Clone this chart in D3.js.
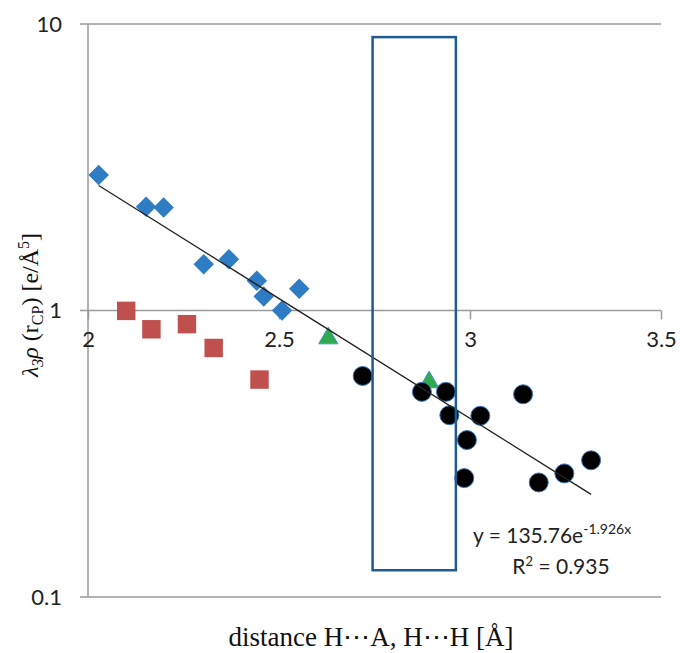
<!DOCTYPE html>
<html lang="en">
<head>
  <meta charset="UTF-8">
  <title>lambda3 rho vs distance</title>
  <style>
    body, html {
      margin: 0;
      padding: 0;
      background: #fff;
    }
    #svg {
      display: block;
    }
  </style>
</head>
<body>
  <svg id="svg" width="680" height="653"></svg>
  <script src="https://d3js.org/d3.v7.min.js"></script>
  <script>
    // blue diamonds
    const diamondX = [2.028, 2.152, 2.198, 2.303, 2.369, 2.442, 2.460, 2.553, 2.508]
    const diamondY = [2.97, 2.30, 2.29, 1.45, 1.51, 1.27, 1.12, 1.19, 1.00]
    // red squares
    const squareX = [2.100, 2.166, 2.259, 2.329, 2.449]
    const squareY = [0.997, 0.860, 0.896, 0.740, 0.574]
    // green triangles
    const triangleX = [2.629, 2.893]
    const triangleY = [0.80, 0.562]
    // black circles
    const circleX = [2.719, 2.874, 2.937, 2.946, 3.027, 2.992, 2.985, 3.139, 3.180, 3.247, 3.317]
    const circleY = [0.591, 0.520, 0.520, 0.431, 0.429, 0.353, 0.260, 0.510, 0.251, 0.270, 0.300]

    // exponential trendline y = a * e^(b x)
    const trendA = 135.76
    const trendB = -1.926
    const trendR2 = 0.935

    // highlighted window
    const boxX = [2.745, 2.963]
    const boxY = [0.124, 9.0]

    const xTicks = [2, 2.5, 3, 3.5]
    const yTicks = [0.1, 1, 10]

    const plotLeft = 88, plotRight = 661, plotTop = 24, plotBottom = 597

    const svg = d3.select("#svg")

    const x = d3.scaleLinear().domain([2, 3.5]).range([plotLeft, plotRight])
    const y = d3.scaleLog().domain([0.1, 10]).range([plotBottom, plotTop])

    const tickFont = "Lato, 'Open Sans', sans-serif"
    const gridColor = "#9a9a9a"

    // horizontal gridlines + y ticks
    svg.append('g')
      .selectAll('line')
      .data(yTicks)
      .enter()
      .append('line')
      .attr('x1', plotLeft - 8)
      .attr('x2', plotRight)
      .attr('y1', d => y(d))
      .attr('y2', d => y(d))
      .attr('stroke', gridColor)
      .attr('stroke-width', 1.5)

    // y axis line
    svg.append('line')
      .attr('x1', plotLeft).attr('x2', plotLeft)
      .attr('y1', plotTop).attr('y2', plotBottom)
      .attr('stroke', gridColor)
      .attr('stroke-width', 1.5)

    // y tick labels
    svg.append('g')
      .selectAll('text')
      .data(yTicks)
      .enter()
      .append('text')
      .text(d => d)
      .attr('x', 62)
      .attr('y', d => y(d))
      .attr('dy', '0.35em')
      .attr('text-anchor', 'end')
      .attr('font-family', tickFont)
      .attr('font-size', 22)
      .attr('fill', '#222')

    // x axis sits on y = 1
    const xAxis = d3.axisBottom(x)
      .tickValues(xTicks)
      .tickFormat(d3.format('~g'))
      .tickSize(9)
      .tickPadding(12)

    const xg = svg.append('g')
      .attr('transform', `translate(0, ${y(1)})`)
      .call(xAxis)
    xg.select('.domain').remove()
    xg.selectAll('line').attr('stroke', gridColor).attr('stroke-width', 1.5)
    xg.selectAll('text')
      .attr('font-family', tickFont)
      .attr('font-size', 22)
      .attr('fill', '#222')

    const plot = svg.append('g')

    // diamonds
    plot.selectAll('.diamond')
      .data(d3.zip(diamondX, diamondY))
      .enter()
      .append('path')
      .attr('class', 'diamond')
      .attr('d', d3.symbol(d3.symbolSquare, 210))
      .attr('transform', d => `translate(${x(d[0])}, ${y(d[1])}) rotate(45)`)
      .attr('fill', '#2e7dc4')

    // squares
    plot.selectAll('.square')
      .data(d3.zip(squareX, squareY))
      .enter()
      .append('path')
      .attr('class', 'square')
      .attr('d', d3.symbol(d3.symbolSquare, 340))
      .attr('transform', d => `translate(${x(d[0])}, ${y(d[1])})`)
      .attr('fill', '#c0504d')

    // triangles
    plot.selectAll('.triangle')
      .data(d3.zip(triangleX, triangleY))
      .enter()
      .append('path')
      .attr('class', 'triangle')
      .attr('d', d3.symbol(d3.symbolTriangle, 160))
      .attr('transform', d => `translate(${x(d[0])}, ${y(d[1])})`)
      .attr('fill', '#2eab4c')
      .attr('stroke', '#4a8fd0')
      .attr('stroke-width', 1)

    // circles
    plot.selectAll('circle')
      .data(d3.zip(circleX, circleY))
      .enter()
      .append('circle')
      .attr('cx', d => x(d[0]))
      .attr('cy', d => y(d[1]))
      .attr('r', 9.5)
      .attr('fill', '#000')
      .attr('stroke', '#3c78b8')
      .attr('stroke-width', 1)

    // trendline across data range
    const allX = diamondX.concat(squareX, triangleX, circleX)
    const trendX = d3.extent(allX)
    const line = d3.line()
      .x(d => x(d))
      .y(d => y(trendA * Math.exp(trendB * d)))
    svg.append('path')
      .attr('d', line(trendX))
      .attr('fill', 'none')
      .attr('stroke', '#222')
      .attr('stroke-width', 1.3)

    // highlight rectangle
    svg.append('rect')
      .attr('x', x(boxX[0]))
      .attr('y', y(boxY[1]))
      .attr('width', x(boxX[1]) - x(boxX[0]))
      .attr('height', y(boxY[0]) - y(boxY[1]))
      .attr('fill', 'none')
      .attr('stroke', '#1d5b92')
      .attr('stroke-width', 2.5)

    // trendline label
    const eq = svg.append('text')
      .attr('x', 473)
      .attr('y', 543)
      .attr('font-family', tickFont)
      .attr('font-size', 21)
      .attr('fill', '#222')
    eq.append('tspan').text(`y = ${trendA}e`)
    eq.append('tspan').text(`${trendB}x`)
      .attr('font-size', 14)
      .attr('dy', -9)

    const r2 = svg.append('text')
      .attr('x', 561)
      .attr('y', 574)
      .attr('text-anchor', 'middle')
      .attr('font-family', tickFont)
      .attr('font-size', 21)
      .attr('fill', '#222')
    r2.append('tspan').text('R')
    r2.append('tspan').text('2').attr('font-size', 13).attr('dy', -8)
    r2.append('tspan').text(` = ${trendR2}`).attr('dy', 8)

    // axis titles
    const serif = "'Liberation Serif', 'Times New Roman', serif"
    svg.append('text')
      .text('distance H\u22EFA, H\u22EFH [\u00C5]')
      .attr('x', 371)
      .attr('y', 646)
      .attr('text-anchor', 'middle')
      .attr('font-family', serif)
      .attr('font-size', 27)
      .attr('fill', '#111')

    const yt = svg.append('text')
      .attr('transform', 'translate(38, 305) rotate(-90)')
      .attr('text-anchor', 'middle')
      .attr('font-family', serif)
      .attr('font-size', 24)
      .attr('fill', '#111')
    yt.append('tspan').text('\u03BB').attr('font-style', 'italic')
    yt.append('tspan').text('3').attr('font-style', 'italic').attr('font-size', 16).attr('dy', 5)
    yt.append('tspan').text('\u03C1').attr('font-style', 'italic').attr('dy', -5)
    yt.append('tspan').text(' (r')
    yt.append('tspan').text('CP').attr('font-size', 16).attr('dy', 5)
    yt.append('tspan').text(') [e/\u00C5').attr('dy', -5)
    yt.append('tspan').text('5').attr('font-size', 16).attr('dy', -9)
    yt.append('tspan').text(']').attr('dy', 9)
  </script>
</body>
</html>
